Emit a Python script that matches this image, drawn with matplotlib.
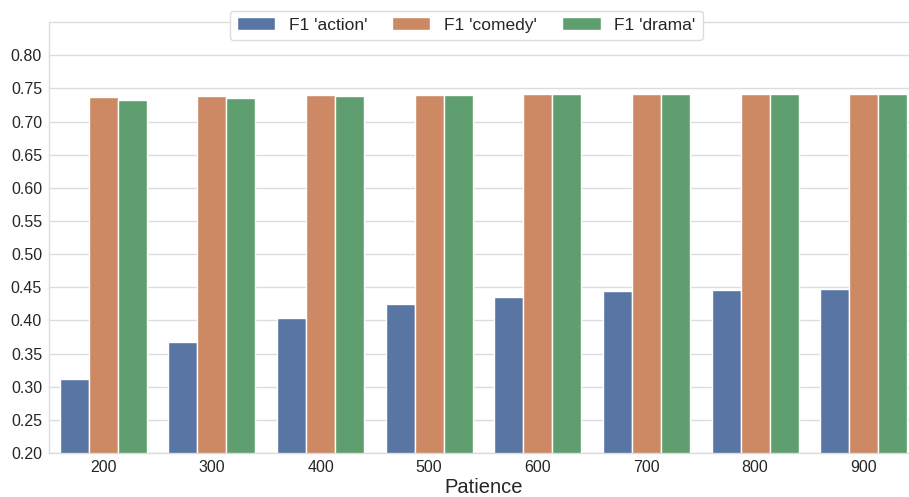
import numpy as np
import matplotlib
matplotlib.use("Agg")
import matplotlib.pyplot as plt

# values
patience = ["200", "300", "400", "500", "600", "700", "800", "900"]
f1_action = [0.311, 0.367, 0.404, 0.425, 0.435, 0.444, 0.446, 0.448]
f1_comedy = [0.737, 0.739, 0.740, 0.740, 0.741, 0.741, 0.741, 0.741]
f1_drama = [0.732, 0.735, 0.738, 0.740, 0.741, 0.741, 0.741, 0.741]
series_names = ["F1 'action'", "F1 'comedy'", "F1 'drama'"]
colors = ["#5975a4", "#cc8963", "#5f9e6e"]

plt.rcParams['font.family'] = ['Liberation Sans', 'DejaVu Sans']

fig = plt.figure(figsize=(9.09, 4.97), dpi=100)
ax = fig.add_axes([0.0539, 0.0885, 0.956, 0.867])

x = np.arange(len(patience))
w = 0.8 / 3
for i, (vals, name) in enumerate(zip([f1_action, f1_comedy, f1_drama], series_names)):
    ax.bar(x + (i - 1) * w, vals, width=w, color=colors[i], edgecolor='white',
           linewidth=1.0, label=name, zorder=2)

ax.set_xlim(-0.5, 7.5)
ax.set_ylim(0.2, 0.85)
ax.set_yticks(np.arange(0.20, 0.801, 0.05))
ax.set_yticklabels([f"{v:.2f}" for v in np.arange(0.20, 0.801, 0.05)])
ax.set_xticks(x)
ax.set_xticklabels(patience)
ax.tick_params(axis='both', length=0, labelsize=11.5, labelcolor='#262626', pad=5)
ax.yaxis.grid(True, color='#dcdcdc', linewidth=1.0, zorder=0)
ax.set_axisbelow(True)
for s in ax.spines.values():
    s.set_color('#dcdcdc')
    s.set_linewidth(1.0)

ax.set_xlabel("Patience", fontsize=14.5, color='#262626', labelpad=2)

leg = ax.legend(loc='upper center', bbox_to_anchor=(0.48, 1.047), ncol=3,
                fontsize=12.5, frameon=True, handlelength=2.2, columnspacing=1.45,
                handletextpad=0.8, borderpad=0.4)
leg.get_frame().set_edgecolor('#dcdcdc')
leg.get_frame().set_facecolor('white')
leg.get_frame().set_alpha(1.0)
for t in leg.get_texts():
    t.set_color('#262626')

fig.savefig("out.png", dpi=100)
